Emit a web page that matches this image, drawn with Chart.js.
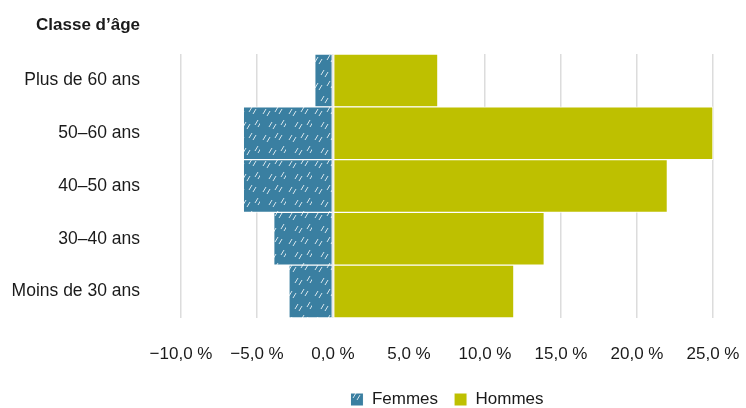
<!DOCTYPE html>
<html>
<head>
<meta charset="utf-8">
<script src="https://cdn.jsdelivr.net/npm/chart.js@4.4.1/dist/chart.umd.min.js"></script>
<style>
  body { margin: 0; background: #fff; }
  #wrap { width: 746px; height: 408px; }
</style>
</head>
<body>
<div id="wrap"><canvas id="chart"></canvas></div>
<script>
// data
const classes = ['Plus de 60 ans', '50–60 ans', '40–50 ans', '30–40 ans', 'Moins de 30 ans'];
const femmes = [-1.2, -5.9, -5.9, -3.9, -2.9];
const hommes = [6.9, 25.0, 22.0, 13.9, 11.9];
const tickValues = [-10, -5, 0, 5, 10, 15, 20, 25];

const blue = '#3a7fa1';
const olive = '#bec000';
const fontFamily = '"Liberation Sans", Arial, sans-serif';
const fontSize = 17;

// hatch fill for Femmes
function makeHatch() {
    const c = document.createElement('canvas');
    c.width = 26; c.height = 26;
    const g = c.getContext('2d');
    g.fillStyle = blue;
    g.fillRect(0, 0, 26, 26);
    g.strokeStyle = 'rgba(255,255,255,0.8)';
    g.lineWidth = 1;
    const dashes = [[3, 10], [7, 12], [15, 8], [19, 10], [9, 23], [13, 25], [21, 21], [24, 23]];
    dashes.forEach(function(d) {
        g.beginPath();
        g.moveTo(d[0], d[1]);
        g.lineTo(d[0] + 3, d[1] - 5);
        g.stroke();
    });
    return g.createPattern(c, 'repeat');
}

function fmt(v) {
    let s = Math.abs(v).toFixed(1).replace('.', ',') + '\u00a0%';
    return v < 0 ? '\u2212' + s : s;
}

// axis title drawn above the category labels
const axisTitle = {
    id: 'axisTitle',
    afterDraw(chart) {
        const ctx = chart.ctx;
        ctx.save();
        ctx.font = 'bold ' + fontSize + 'px ' + fontFamily;
        ctx.fillStyle = '#1a1a1a';
        ctx.textAlign = 'right';
        ctx.textBaseline = 'middle';
        ctx.fillText('Classe d\u2019âge', 140, 25);
        ctx.restore();
    }
};

const hatch = makeHatch();

new Chart(document.getElementById('chart'), {
    type: 'bar',
    data: {
        labels: classes,
        datasets: [{
            label: 'Femmes',
            data: femmes,
            backgroundColor: hatch,
            borderColor: '#ffffff',
            borderWidth: 1,
            borderSkipped: false
        }, {
            label: 'Hommes',
            data: hommes,
            backgroundColor: olive,
            borderColor: '#ffffff',
            borderWidth: 1,
            borderSkipped: false
        }]
    },
    options: {
        indexAxis: 'y',
        responsive: true,
        maintainAspectRatio: false,
        animation: false,
        layout: { padding: { top: 54, right: 33, left: 0, bottom: -10 } },
        datasets: { bar: { barPercentage: 1, categoryPercentage: 1 } },
        scales: {
            x: {
                stacked: true,
                min: -10,
                max: 25,
                afterBuildTicks(scale) {
                    scale.ticks = tickValues.map(function(v) { return { value: v }; });
                },
                afterFit(scale) {
                    scale.height = 57;
                    scale.paddingRight = 0;
                },
                grid: { color: '#dcdcdc', lineWidth: 1.5, drawTicks: false },
                border: { display: false },
                ticks: {
                    padding: 26,
                    color: '#1a1a1a',
                    font: { family: fontFamily, size: fontSize },
                    callback: function(v) { return fmt(v); }
                }
            },
            y: {
                stacked: true,
                afterFit(scale) { scale.width = 181; },
                grid: { display: false, drawTicks: false },
                border: { display: false },
                ticks: {
                    padding: 41,
                    color: '#1a1a1a',
                    font: { family: fontFamily, size: 17.5 }
                }
            }
        },
        plugins: {
            legend: {
                position: 'bottom',
                fullSize: false,
                labels: {
                    boxWidth: 13,
                    boxHeight: 13,
                    padding: 16,
                    color: '#1a1a1a',
                    font: { family: fontFamily, size: fontSize }
                }
            },
            tooltip: { enabled: false }
        }
    },
    plugins: [axisTitle]
});
</script>
</body>
</html>
